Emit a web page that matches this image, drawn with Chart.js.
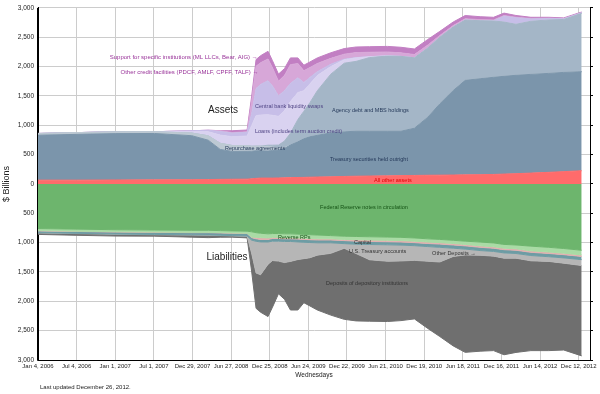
<!DOCTYPE html>
<html lang="en">
<head>
  <meta charset="UTF-8">
  <title>Federal Reserve Balance Sheet</title>
  <script src="https://cdn.jsdelivr.net/npm/chart.js"></script>
  <style>
    html, body { margin: 0; padding: 0; background: #fff; }
    #wrap { width: 600px; height: 394px; }
  </style>
</head>
<body>
  <div id="wrap"><canvas id="fedChart"></canvas></div>

  <script>
    // 1) Data, $ billions, sampled on Wednesdays
    const dates = [
      '2006-01-04','2006-07-05','2007-01-03','2007-07-04','2007-12-26','2008-03-12','2008-05-07','2008-07-02',
      '2008-09-10','2008-10-01','2008-10-22','2008-11-12','2008-12-17','2009-01-07','2009-02-04','2009-03-04',
      '2009-04-01','2009-05-06','2009-06-03','2009-07-01','2009-08-05','2009-10-07','2009-12-09','2010-02-03',
      '2010-04-07','2010-06-30','2010-09-01','2010-11-03','2011-01-05','2011-03-02','2011-05-04','2011-06-29',
      '2011-09-07','2011-11-09','2011-12-28','2012-02-22','2012-05-02','2012-07-25','2012-10-03','2012-12-26'
    ];

    // assets, stacked up from zero
    const otherAssets = [65,65,68,70,72,75,78,80,82,88,95,100,100,100,102,105,108,110,112,115,118,122,128,132,135,138,142,145,148,150,152,155,158,162,168,175,185,198,210,225];
    const treasuries  = [765,780,790,790,750,670,510,475,475,470,470,465,460,470,475,500,555,608,657,688,710,748,759,767,764,761,757,805,990,1215,1440,1610,1635,1655,1666,1676,1682,1686,1691,1688];
    const repos       = [30,30,30,30,45,75,105,100,95,85,80,80,80,60,30,15,0,0,0,0,0,0,0,0,0,0,0,0,0,0,0,0,0,0,0,0,0,0,0,0];
    const agencyMbs   = [0,0,0,0,0,0,0,0,0,0,0,0,20,30,55,110,200,380,470,580,760,1000,1170,1190,1255,1280,1275,1200,1180,1135,1083,1028,989,960,925,870,905,911,902,995];
    const loans       = [0,0,0,0,25,70,140,150,165,350,520,530,520,510,490,520,540,460,350,320,260,130,60,60,15,5,0,0,0,0,0,0,0,0,0,0,0,0,0,0];
    const swaps       = [0,0,0,0,15,25,60,62,62,200,460,520,580,500,350,340,310,250,140,110,65,40,10,5,0,0,0,0,0,0,0,0,0,3,100,110,40,25,12,10];
    const otherCredit = [0,0,0,0,0,0,15,10,10,200,380,370,370,310,250,260,320,245,200,170,140,100,85,85,75,65,60,55,50,30,25,22,18,15,12,10,8,5,3,2];
    const support     = [0,0,0,0,0,0,0,30,30,90,115,120,130,120,120,115,115,95,95,95,95,95,95,95,95,95,95,95,95,70,60,55,50,45,40,30,20,15,12,10];

    // liabilities, stacked down from zero (magnitudes)
    const fedNotes      = [760,770,780,785,790,790,795,800,805,815,830,840,850,845,845,850,850,855,860,865,870,880,890,895,900,905,910,920,935,945,960,975,990,1005,1030,1040,1060,1080,1100,1130];
    const reverseRepos  = [35,35,35,35,35,35,35,35,35,90,80,75,70,65,65,65,65,65,65,65,65,55,55,55,55,55,55,55,55,55,55,55,65,65,65,65,80,80,80,80];
    const otherDeposits = [5,5,5,5,5,5,5,5,5,10,25,30,25,20,20,20,20,20,20,20,20,20,20,25,25,25,25,25,25,25,25,25,25,25,25,25,25,25,25,25];
    const capital       = [30,31,33,35,37,38,39,40,41,42,42,43,44,45,45,45,45,48,48,48,48,48,52,52,52,52,52,52,52,55,55,55,55,55,55,55,55,55,55,55];
    const treasuryAccts = [5,5,5,5,5,5,5,5,5,220,540,560,380,330,340,360,340,300,280,260,210,180,80,160,260,280,270,250,250,250,140,100,80,80,90,80,90,80,90,100];
    const reserves      = [25,29,30,25,35,42,29,22,28,306,603,637,891,795,557,625,828,860,751,820,935,1052,1210,1147,1047,1027,1017,998,1146,1270,1525,1660,1635,1610,1646,1606,1530,1520,1480,1540];

    // x axis ticks, every 181 days
    const tickDates  = ['2006-01-04','2006-07-04','2007-01-01','2007-07-01','2007-12-29','2008-06-27','2008-12-25','2009-06-24',
                        '2009-12-22','2010-06-21','2010-12-19','2011-06-18','2011-12-16','2012-06-14','2012-12-12'];
    const tickLabels = ['Jan 4, 2006','Jul 4, 2006','Jan 1, 2007','Jul 1, 2007','Dec 29, 2007','Jun 27, 2008','Dec 25, 2008','Jun 24, 2009',
                        'Dec 22, 2009','Jun 21, 2010','Dec 19, 2010','Jun 18, 2011','Dec 16, 2011','Jun 14, 2012','Dec 12, 2012'];

    // 2) Helpers
    const dayOf = s => (Date.parse(s) - Date.parse('2006-01-04')) / 864e5;
    const days = dates.map(dayOf);
    const tickDays = tickDates.map(dayOf);

    function area(label, values, color, stack, first, sign) {
      return {
        label: label,
        stack: stack,
        data: values.map((v, i) => ({ x: days[i], y: sign * v })),
        backgroundColor: color,
        borderColor: color,
        borderWidth: 1,
        fill: first ? 'origin' : '-1',
        pointRadius: 0,
        tension: 0
      };
    }

    const assetSeries = [
      ['All other assets', otherAssets, '#ff6b6b'],
      ['Treasury securities held outright', treasuries, '#7b95ab'],
      ['Repurchase agreements', repos, '#bdc9d3'],
      ['Agency debt and MBS holdings', agencyMbs, '#a4b6c7'],
      ['Loans (includes term auction credit)', loans, '#d9d2f0'],
      ['Central bank liquidity swaps', swaps, '#c7bee8'],
      ['Other credit facilities', otherCredit, '#d7a7d8'],
      ['Support for specific institutions', support, '#c27fc3']
    ];
    const liabilitySeries = [
      ['Federal Reserve notes in circulation', fedNotes, '#6db56d'],
      ['Reverse RPs', reverseRepos, '#a9dba5'],
      ['Other deposits', otherDeposits, '#e2b0b0'],
      ['Capital', capital, '#6d9ca4'],
      ['U.S. Treasury accounts', treasuryAccts, '#b6b6b6'],
      ['Deposits of depository institutions', reserves, '#6f6f6f']
    ];

    const datasets = [
      ...assetSeries.map((s, i) => area(s[0], s[1], s[2], 'assets', i === 0, 1)),
      ...liabilitySeries.map((s, i) => area(s[0], s[1], s[2], 'liabilities', i === 0, -1))
    ];

    // 3) In-chart labels, placed at [day, $bn]
    const small = '5.5px "Liberation Sans", Arial, sans-serif';
    const mid = '6px "Liberation Sans", Arial, sans-serif';
    const big = '10px "Liberation Sans", Arial, sans-serif';
    const annotations = [
      { text: 'Support for specific institutions (ML LLCs, Bear, AIG) \u2192', at: [1030, 2155], color: '#993399', align: 'right', font: mid },
      { text: 'Other credit facilities (PDCF, AMLF, CPFF, TALF) \u2192', at: [1033, 1900], color: '#993399', align: 'right', font: mid },
      { text: 'Assets', at: [867, 1259], color: '#222', align: 'center', font: big },
      { text: 'Central bank liquidity swaps', at: [1017, 1320], color: '#4e4383', align: 'left', font: small },
      { text: 'Agency debt and MBS holdings', at: [1378, 1259], color: '#25395a', align: 'left', font: small },
      { text: 'Loans (includes term auction credit)', at: [1017, 900], color: '#4e4383', align: 'left', font: small },
      { text: 'Repurchase agreements', at: [876, 600], color: '#25395a', align: 'left', font: small },
      { text: 'Treasury securities held outright', at: [1368, 414], color: '#25395a', align: 'left', font: small },
      { text: 'All other assets', at: [1575, 59], color: '#e00000', align: 'left', font: small },
      { text: 'Federal Reserve notes in circulation', at: [1322, -397], color: '#145214', align: 'left', font: small },
      { text: 'Reverse RPs', at: [1125, -904], color: '#145214', align: 'left', font: small },
      { text: 'Capital', at: [1481, -1000], color: '#333', align: 'left', font: small },
      { text: 'U.S. Treasury accounts', at: [1458, -1158], color: '#333', align: 'left', font: small },
      { text: 'Other Deposits \u2192', at: [1847, -1191], color: '#333', align: 'left', font: small },
      { text: 'Liabilities', at: [886, -1242], color: '#222', align: 'center', font: big },
      { text: 'Deposits of depository institutions', at: [1350, -1698], color: '#333', align: 'left', font: small }
    ];

    const labelPlugin = {
      id: 'labels',
      afterDatasetsDraw(chart) {
        const { ctx, chartArea: a, scales: { x, y } } = chart;
        ctx.save();
        ctx.textBaseline = 'middle';
        annotations.forEach(n => {
          ctx.font = n.font;
          ctx.fillStyle = n.color;
          ctx.textAlign = n.align;
          ctx.fillText(n.text, x.getPixelForValue(n.at[0]), y.getPixelForValue(n.at[1]));
        });
        // frame on top of the areas
        ctx.strokeStyle = '#000';
        ctx.lineWidth = 1;
        ctx.beginPath();
        ctx.moveTo(a.left - 0.5, a.top);
        ctx.lineTo(a.left - 0.5, a.bottom + 0.5);
        ctx.lineTo(a.right + 0.5, a.bottom + 0.5);
        ctx.lineTo(a.right + 0.5, a.top);
        ctx.stroke();
        ctx.font = '6px "Liberation Sans", Arial, sans-serif';
        ctx.fillStyle = '#222';
        ctx.textAlign = 'left';
        ctx.fillText('Last updated December 26, 2012.', a.left + 2, a.bottom + 27);
        ctx.restore();
      }
    };

    // 4) Chart
    const ctx = document.getElementById('fedChart').getContext('2d');
    const fedChart = new Chart(ctx, {
      type: 'line',
      data: { datasets: datasets },
      plugins: [labelPlugin],
      options: {
        responsive: true,
        maintainAspectRatio: false,
        animation: false,
        layout: { padding: { top: 5, left: 0, right: 0, bottom: 0 } },
        plugins: { legend: { display: false }, tooltip: { enabled: false } },
        font: { family: '"Liberation Sans", Arial, sans-serif' },
        scales: {
          x: {
            type: 'linear',
            min: 0,
            max: dayOf('2013-02-03'),
            afterBuildTicks: axis => { axis.ticks = tickDays.map(v => ({ value: v })); },
            afterFit: axis => { axis.height = 34; },
            grid: { color: '#cccccc', drawTicks: false },
            border: { color: '#000' },
            ticks: {
              autoSkip: false, maxRotation: 0, padding: 3, color: '#222',
              font: { size: 6 },
              callback: (v, i) => tickLabels[i]
            },
            title: { display: true, text: 'Wednesdays', color: '#222', font: { size: 6.5 }, padding: { top: 0, bottom: 14.5 } }
          },
          y: {
            stacked: true,
            min: -3000,
            max: 3000,
            afterFit: axis => { axis.width = 38; },
            grid: { color: '#cccccc', drawTicks: false },
            border: { color: '#000' },
            ticks: {
              stepSize: 500, maxTicksLimit: 20, padding: 4, color: '#222',
              font: { size: 6.5 },
              callback: v => Math.abs(v).toLocaleString('en-US')
            },
            title: { display: true, text: '$ Billions', color: '#222', font: { size: 9 }, padding: { top: 1, bottom: 0 } }
          },
          y2: {
            position: 'right',
            min: -3000,
            max: 3000,
            afterFit: axis => { axis.width = 10; },
            grid: { drawOnChartArea: false, tickLength: 3, color: '#000' },
            border: { color: '#000' },
            ticks: { display: false, stepSize: 500, maxTicksLimit: 20 }
          }
        }
      }
    });
  </script>
</body>
</html>
